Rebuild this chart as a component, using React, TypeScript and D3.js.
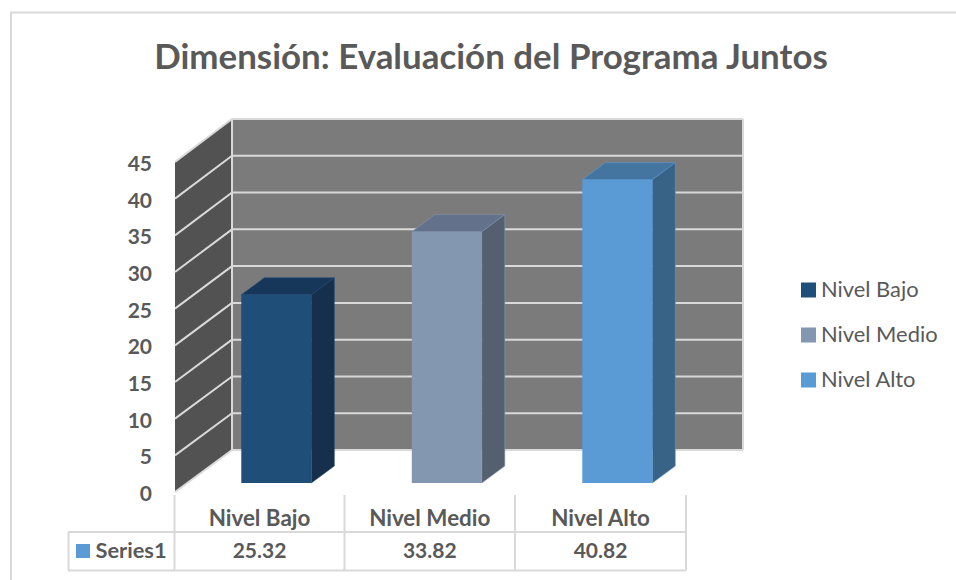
import React from "react";
import * as d3 from "d3";

const categories = ["Nivel Bajo", "Nivel Medio", "Nivel Alto"];
const values = [25.32, 33.82, 40.82];
const ticks = [0, 5, 10, 15, 20, 25, 30, 35, 40, 45];
const frontColors = ["#1f4e79", "#8497b0", "#5b9bd5"];
const topColors = ["#17375a", "#63718a", "#4475a0"];
const sideColors = ["#152f4c", "#545f70", "#386387"];
const seriesName = "Series1";
const chartTitle = "Dimensión: Evaluación del Programa Juntos";

const FONT = "Lato, 'Open Sans', sans-serif";
const TEXT = "#595959";
const GRID = "#d9d9d9";

export default function App() {
  const yFront = d3.scaleLinear().domain([0, 45]).range([492, 162]);
  const yBack = d3.scaleLinear().domain([0, 45]).range([450, 119]);
  const yBar = d3.scaleLinear().domain([0, 45]).range([483, 148.6]);
  const xCat = d3.scaleBand().domain(categories).range([174.5, 686]);
  const barLeft = (c: string) => (xCat(c) as number) + 66.8;
  const barW = 70;
  const dx = 23, dy = 17;
  const wallL = 175, wallR = 232, wallEnd = 743;

  const table = [174.5, 344.5, 515, 686];

  return (
    <svg width={956} height={580} style={{ position: "absolute", left: 0, top: 0, background: "#fff" }}>
      <path d="M956,12.5 H11 V580" fill="none" stroke={GRID} strokeWidth={2} />
      <text x={491} y={68.5} textAnchor="middle" fontFamily={FONT} fontWeight={700} fontSize={34.9} fill={TEXT}>{chartTitle}</text>

      <polygon points={`${wallL},${yFront(0)} ${wallR},${yBack(0)} ${wallR},${yBack(45)} ${wallL},${yFront(45)}`} fill="#525252" />
      <rect x={wallR} y={yBack(45)} width={wallEnd - wallR} height={yBack(0) - yBack(45)} fill="#7b7b7b" />
      {ticks.map(t => (
        <g key={t}>
          <line x1={wallL} x2={wallR} y1={yFront(t)} y2={yBack(t)} stroke={GRID} strokeWidth={2} />
          <line x1={wallR} x2={wallEnd} y1={yBack(t)} y2={yBack(t)} stroke={GRID} strokeWidth={2} />
          <text x={152} y={yFront(t) + 9} textAnchor="end" fontFamily={FONT} fontWeight={700} fontSize={21} fill={TEXT}>{t}</text>
        </g>
      ))}
      <line x1={wallR} x2={wallR} y1={yBack(0)} y2={yBack(45)} stroke={GRID} strokeWidth={2} />
      <line x1={wallEnd} x2={wallEnd} y1={yBack(0)} y2={yBack(45)} stroke={GRID} strokeWidth={2} />

      {categories.map((c, i) => {
        const x = barLeft(c), top = yBar(values[i]), base = yBar(0);
        return (
          <g key={c}>
            <polygon points={`${x},${top} ${x + dx},${top - dy} ${x + barW + dx},${top - dy} ${x + barW},${top}`} fill={topColors[i]} stroke={frontColors[i]} strokeWidth={0.6} />
            <polygon points={`${x + barW},${top} ${x + barW + dx},${top - dy} ${x + barW + dx},${base - dy} ${x + barW},${base}`} fill={sideColors[i]} stroke={frontColors[i]} strokeWidth={0.6} />
            <rect x={x} y={top} width={barW} height={base - top} fill={frontColors[i]} />
          </g>
        );
      })}

      {table.map(x => <line key={x} x1={x} x2={x} y1={495} y2={570.5} stroke={GRID} strokeWidth={2} />)}
      <line x1={68.5} x2={68.5} y1={532} y2={570.5} stroke={GRID} strokeWidth={2} />
      <line x1={68} x2={686} y1={532} y2={532} stroke={GRID} strokeWidth={2} />
      <line x1={68} x2={686} y1={570.5} y2={570.5} stroke={GRID} strokeWidth={2} />
      <rect x={76} y={544} width={14} height={14} fill="#5b9bd5" />
      <text x={95.5} y={558} fontFamily={FONT} fontWeight={700} fontSize={21.8} fill={TEXT}>{seriesName}</text>
      {categories.map((c, i) => (
        <g key={c}>
          <text x={(table[i] + table[i + 1]) / 2} y={526} textAnchor="middle" fontFamily={FONT} fontWeight={700} fontSize={22.4} fill={TEXT}>{c}</text>
          <text x={(table[i] + table[i + 1]) / 2} y={558} textAnchor="middle" fontFamily={FONT} fontWeight={700} fontSize={21} fill={TEXT}>{values[i]}</text>
        </g>
      ))}

      {categories.map((c, i) => (
        <g key={c}>
          <rect x={801} y={282.5 + i * 45} width={15} height={15} fill={frontColors[i]} />
          <text x={821} y={296.7 + i * 45} fontFamily={FONT} fontSize={21.9} fill={TEXT}>{c}</text>
        </g>
      ))}
    </svg>
  );
}
